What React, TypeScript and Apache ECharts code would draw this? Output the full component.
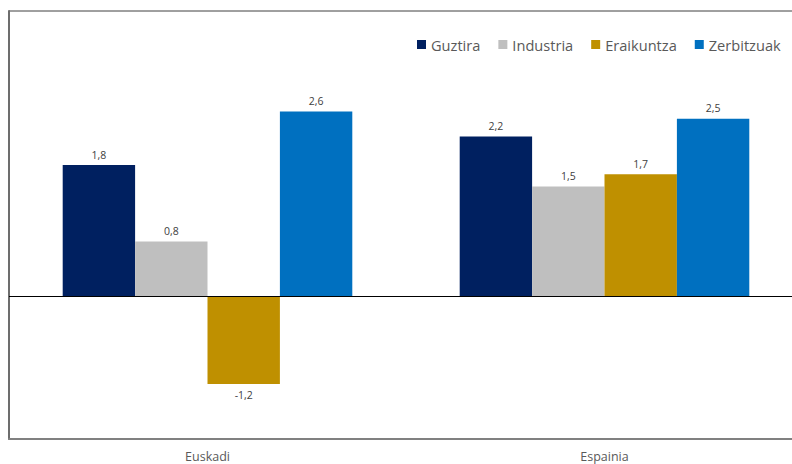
import React, { useEffect, useRef } from "react";
import * as echarts from "echarts";

const categories = ["Euskadi", "Espainia"];
const seriesNames = ["Guztira", "Industria", "Eraikuntza", "Zerbitzuak"];
const guztira = [1.84, 2.24];
const industria = [0.77, 1.54];
const eraikuntza = [-1.23, 1.71];
const zerbitzuak = [2.59, 2.49];
const colors = ["#002060", "#BFBFBF", "#BF9000", "#0070C0"];

export default function App() {
  const ref = useRef<HTMLDivElement>(null);
  useEffect(() => {
    if (!ref.current) return;
    const chart = echarts.init(ref.current, null, { renderer: "svg" });
    const values = [guztira, industria, eraikuntza, zerbitzuak];
    const series: any[] = values.map((v, i) => ({
      name: seriesNames[i],
      type: "bar",
      data: v.map((x) => ({
        value: x,
        label: x < 0 ? { position: "bottom" } : undefined,
      })),
      barWidth: 72.4,
      barGap: "0%",
      itemStyle: { color: colors[i] },
      label: {
        show: true,
        position: "top",
        distance: 5,
        fontSize: 10.5,
        color: "#404040",
        fontFamily: "Open Sans",
        formatter: (p: any) => Number(p.value).toFixed(1).replace(".", ","),
      },
    }));
    series[0].markLine = {
      silent: true,
      symbol: "none",
      label: { show: false },
      lineStyle: { color: "#000000", width: 1, type: "solid" },
      data: [{ yAxis: 0 }],
    };
    chart.setOption({
      animation: false,
      color: colors,
      textStyle: { fontFamily: "Open Sans" },
      grid: {
        left: 9,
        top: 11,
        width: 794,
        height: 428,
        outerBoundsMode: "none",
        containLabel: false,
        show: true,
        borderColor: "#404040",
        borderWidth: 1,
        backgroundColor: "transparent",
      },
      legend: {
        left: 417,
        top: 37,
        padding: 0,
        icon: "rect",
        itemWidth: 9,
        itemHeight: 9,
        itemGap: 18,
        textStyle: { fontSize: 14.6, color: "#595959", fontFamily: "Open Sans" },
        data: seriesNames,
      },
      xAxis: {
        type: "category",
        data: categories,
        position: "bottom",
        axisLine: { onZero: false, lineStyle: { color: "#808080", width: 2 } },
        axisTick: { show: false },
        axisLabel: { fontSize: 12.5, color: "#595959", margin: 11, fontFamily: "Open Sans" },
      },
      yAxis: {
        type: "value",
        min: -2,
        max: 4,
        interval: 2,
        axisLine: { show: true, lineStyle: { color: "#6d6d6d", width: 2 } },
        axisTick: { show: false },
        axisLabel: { show: false },
        splitLine: { show: false },
      },
      series,
    });
    return () => chart.dispose();
  }, []);
  return (
    <div
      ref={ref}
      style={{ position: "fixed", left: 0, top: 0, width: 792, height: 464, background: "#fff" }}
    />
  );
}
